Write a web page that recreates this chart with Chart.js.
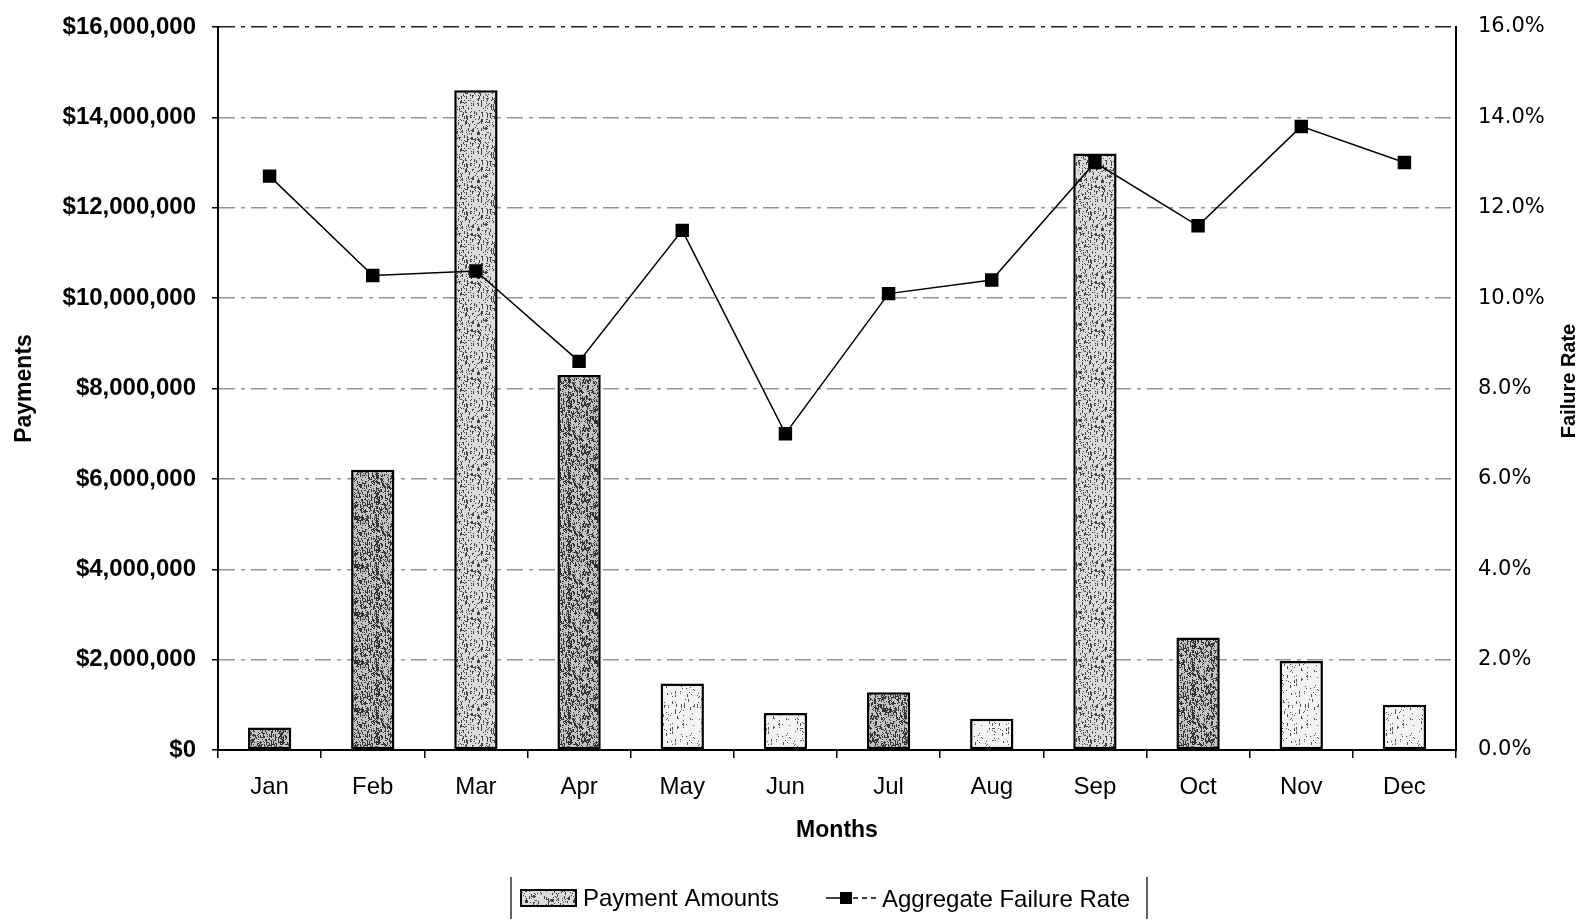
<!DOCTYPE html>
<html><head><meta charset="utf-8">
<script src="https://cdn.jsdelivr.net/npm/chart.js@4.4.1/dist/chart.umd.min.js"></script>
<style>html,body{margin:0;padding:0;background:#fff;}#wrap{width:1584px;height:920px;}</style>
</head><body><div id="wrap"><canvas id="c" width="1584" height="920"></canvas></div>
<script>
const months = ['Jan','Feb','Mar','Apr','May','Jun','Jul','Aug','Sep','Oct','Nov','Dec'];
const payments = [500000, 6200000, 14600000, 8300000, 1470000, 820000, 1280000, 690000, 13200000, 2490000, 1970000, 1000000];
const failureRate = [12.7, 10.5, 10.6, 8.6, 11.5, 7.0, 10.1, 10.4, 13.0, 11.6, 13.8, 13.0];
const seriesNames = ['Payment Amounts', 'Aggregate Failure Rate'];
const axisTitles = {x: 'Months', y: 'Payments', y1: 'Failure Rate'};

const FONT = "'Liberation Sans', Arial, sans-serif";
const barShade = ['dark','dark','mid','dark','light','light','dark','light','mid','dark','light','light'];

const canvas = document.getElementById('c');
const mainCtx = canvas.getContext('2d');
function makePattern(base, density, speck, seed) {
  const N = 48;
  const cv = document.createElement('canvas'); cv.width = N; cv.height = N;
  const g = cv.getContext('2d');
  g.fillStyle = base; g.fillRect(0, 0, N, N);
  g.fillStyle = speck;
  for (let y = 0; y < N; y++) for (let x = 0; x < N; x++) {
    let h = Math.imul(x + seed, 73856093) ^ Math.imul(y + 7 * seed, 19349663);
    h = Math.imul(h ^ (h >>> 13), 1274126177);
    h = (h ^ (h >>> 16)) >>> 0;
    if ((h % 1000) / 1000 < density) g.fillRect(x, y, 1, (h % 3 === 0) ? 3 : 1);
  }
  return mainCtx.createPattern(cv, 'repeat');
}
const patterns = {
  light: makePattern('#f4f4f4', 0.06, '#555', 3),
  mid: makePattern('#dcdcdc', 0.16, '#444', 5),
  dark: makePattern('#c4c4c4', 0.30, '#333', 11)
};

Chart.defaults.font.family = FONT;
Chart.defaults.color = '#000';

const overlay = {
  id: 'overlay',
  afterDraw(chart) {
    const c = chart.ctx;
    c.save();
    c.translate(1569, 381); c.rotate(-Math.PI / 2);
    c.font = 'bold 20px ' + FONT; c.fillStyle = '#000';
    c.textAlign = 'center'; c.textBaseline = 'middle';
    c.fillText(axisTitles.y1, 0, 0);
    c.restore();

    // legend
    c.save();
    c.strokeStyle = '#000'; c.lineWidth = 1.2;
    c.beginPath(); c.moveTo(511, 877); c.lineTo(511, 919); c.moveTo(1147, 877); c.lineTo(1147, 919); c.stroke();
    c.fillStyle = patterns.mid; c.fillRect(521, 890, 55, 16);
    c.lineWidth = 2; c.strokeRect(521, 890, 55, 16);
    c.fillStyle = '#000'; c.font = '24px ' + FONT; c.textBaseline = 'middle'; c.textAlign = 'left';
    c.fillText(chart.data.datasets[1].label, 583, 899);
    c.lineWidth = 1.5;
    c.beginPath(); c.moveTo(826, 898); c.lineTo(840, 898); c.stroke();
    c.setLineDash([5, 4]);
    c.beginPath(); c.moveTo(853, 898); c.lineTo(876, 898); c.stroke();
    c.setLineDash([]);
    c.fillRect(840, 892, 12, 12);
    c.fillText(chart.data.datasets[0].label, 882, 900);
    c.restore();
  }
};

new Chart(mainCtx, {
  type: 'bar',
  data: {
    labels: months,
    datasets: [
      {type: 'line', label: seriesNames[1], data: failureRate, yAxisID: 'y1',
       borderColor: '#000', borderWidth: 1.5, pointStyle: 'rect', pointRadius: 9.5,
       pointBackgroundColor: '#000', pointBorderColor: '#000', pointBorderWidth: 0, tension: 0, order: 1},
      {type: 'bar', label: seriesNames[0], data: payments, yAxisID: 'y',
       backgroundColor: (ctx) => patterns[barShade[ctx.dataIndex]] || patterns.mid,
       borderColor: '#000', borderWidth: 2.5, borderSkipped: false,
       barPercentage: 0.42, categoryPercentage: 1, order: 2}
    ]
  },
  options: {
    responsive: false, animation: false,
    layout: {padding: {top: 27, bottom: 70, left: 0, right: 0}},
    plugins: {legend: {display: false}, tooltip: {enabled: false}},
    scales: {
      x: {
        offset: true,
        grid: {offset: true, drawOnChartArea: false, tickLength: 8, color: '#000', lineWidth: 1.5},
        border: {color: '#000', width: 2},
        ticks: {font: {size: 24}, color: '#000', padding: 15, maxRotation: 0},
        title: {display: true, text: axisTitles.x, font: {size: 23, weight: 'bold'}, color: '#000', padding: {top: 4, bottom: 6}},
        afterFit: (s) => { s.height = 100; s.paddingLeft = 0; s.paddingRight = 0; }
      },
      y: {
        position: 'left', min: 0, max: 16000000,
        ticks: {stepSize: 2000000, callback: (v) => '$' + Number(v).toLocaleString('en-US'),
                font: {size: 24, weight: 'bold'}, color: '#000', padding: 16},
        grid: {color: (ctx) => (ctx.tick && ctx.tick.value === 16000000) ? '#222' : '#949494',
               lineWidth: 1.5, tickLength: 6, tickColor: '#000', tickBorderDash: []},
        border: {color: '#000', width: 2, dash: [16, 6, 4, 6]},
        title: {display: true, text: axisTitles.y, font: {size: 23, weight: 'bold'}, color: '#000', padding: {top: 11, bottom: 0}},
        afterFit: (s) => { s.width = 218; s.paddingTop = 0; s.paddingBottom = 0; }
      },
      y1: {
        position: 'right', min: 0, max: 16,
        ticks: {stepSize: 2, callback: (v) => Number(v).toFixed(1) + '%',
                font: {family: "'DejaVu Sans', sans-serif", size: 21}, color: '#000', padding: 22},
        grid: {drawOnChartArea: false, drawTicks: false},
        border: {color: '#000', width: 2},
        afterFit: (s) => { s.width = 128; s.paddingTop = 0; s.paddingBottom = 0; }
      }
    }
  },
  plugins: [overlay]
});
</script>
</body></html>
